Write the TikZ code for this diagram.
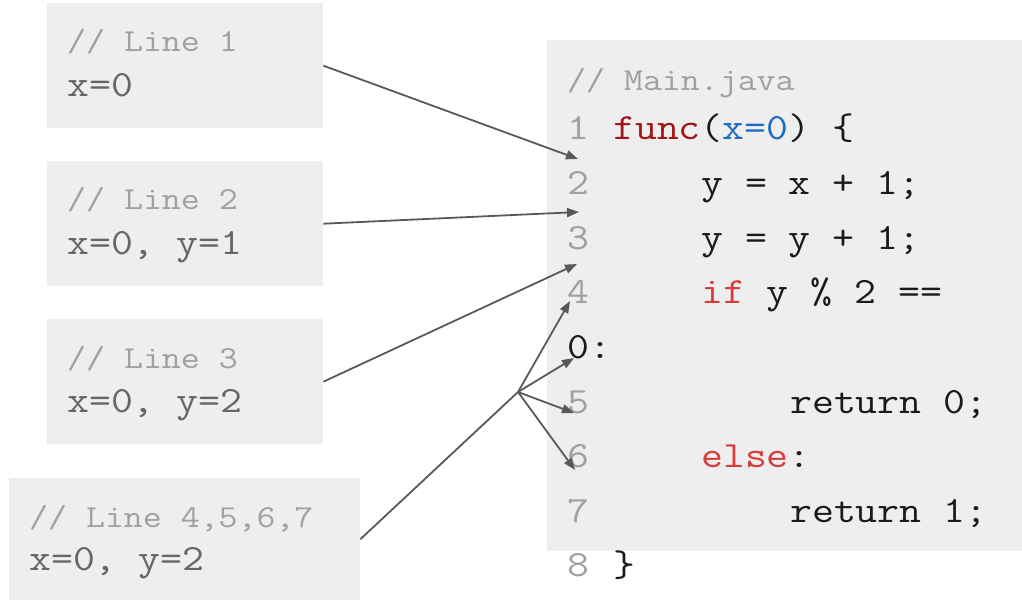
\documentclass[tikz,border=0pt]{standalone}
\usepackage{fontspec}
\setmonofont{Latin Modern Mono}[FakeStretch=1.15]
\usetikzlibrary{arrows.meta}
\definecolor{boxgray}{HTML}{EEEEEE}
\definecolor{cmtgray}{HTML}{A0A0A0}
\definecolor{valgray}{HTML}{666666}
\definecolor{arrowgray}{HTML}{595959}
\definecolor{funcred}{HTML}{A31515}
\definecolor{kwred}{HTML}{D83B3B}
\definecolor{argblue}{HTML}{1E6BC4}
\definecolor{codeblack}{HTML}{1A1A1A}
\begin{document}
\begin{tikzpicture}[x=1pt,y=-1pt,
  box/.style={fill=boxgray, draw=none, inner sep=0pt, anchor=north west},
  cmt/.style={anchor=base west, inner sep=0pt, font=\fontsize{32}{32}\selectfont\ttfamily, text=cmtgray},
  val/.style={anchor=base west, inner sep=0pt, font=\fontsize{37}{37}\selectfont\ttfamily, text=valgray},
  lnum/.style={anchor=base west, inner sep=0pt, font=\fontsize{37}{37}\selectfont\ttfamily, text=cmtgray},
  codetxt/.style={anchor=base west, inner sep=0pt, font=\fontsize{37}{37}\selectfont\ttfamily, text=codeblack},
  conn/.style={draw=arrowgray, line width=1.8pt},
  tip/.style={-{Triangle[length=12pt,width=9pt]}}
]
\useasboundingbox (0,0) rectangle (1022,601);

% state boxes
\node[box, minimum width=276pt, minimum height=125pt] (b1) at (47,3) {};
\node[box, minimum width=276pt, minimum height=125pt] (b2) at (47,161) {};
\node[box, minimum width=276pt, minimum height=125pt] (b3) at (47,319) {};
\node[box, minimum width=351pt, minimum height=122pt] (b4) at (9,478) {};

\node[cmt] (c1) at (67,52) {// Line 1};
\node[val] (v1) at (67,97) {x=0};
\node[cmt] (c2) at (67,210) {// Line 2};
\node[val] (v2) at (67,255) {x=0, y=1};
\node[cmt] (c3) at (67,368) {// Line 3};
\node[val] (v3) at (67,412) {x=0, y=2};
\node[cmt] (c4) at (29,527) {// Line 4,5,6,7};
\node[val] (v4) at (29,570) {x=0, y=2};

% code box
\node[box, minimum width=475pt, minimum height=511pt] (code) at (547,40) {};
\node[cmt] (cm) at (567,91) {// Main.java};

\node[lnum] (n1) at (567,140) {1};
\node[codetxt] (l1) at (613,140) {\textcolor{funcred}{func}(\textcolor{argblue}{x=0}) \{};
\node[lnum] (n2) at (567,195) {2};
\node[codetxt] (l2) at (701,195) {y = x + 1;};
\node[lnum] (n3) at (567,250) {3};
\node[codetxt] (l3) at (701,250) {y = y + 1;};
\node[lnum] (n4) at (567,304) {4};
\node[codetxt] (l4) at (701,304) {\textcolor{kwred}{if} y \% 2 ==};
\node[codetxt] (l4b) at (567,358) {0:};
\node[lnum] (n5) at (567,413) {5};
\node[codetxt] (l5) at (790,413) {return 0;};
\node[lnum] (n6) at (567,467) {6};
\node[codetxt] (l6) at (701,467) {\textcolor{kwred}{else}:};
\node[lnum] (n7) at (567,522) {7};
\node[codetxt] (l7) at (790,522) {return 1;};
\node[lnum] (n8) at (567,576) {8};
\node[codetxt] (l8) at (613,576) {\}};

% arrow targets
\coordinate (t1) at (578,159);
\coordinate (t2) at (579,212);
\coordinate (t3) at (577,264);
\coordinate (j)  at (518,392);
\coordinate (t4) at (570,301);
\coordinate (t4b) at (574,358);
\coordinate (t5) at (574,413);
\coordinate (t6) at (575,470);

\draw[conn,tip] (b1.east) -- (t1);
\draw[conn,tip] (b2.east) -- (t2);
\draw[conn,tip] (b3.east) -- (t3);
\draw[conn] (b4.east) -- (j);
\draw[conn,tip] (j) -- (t4);
\draw[conn,tip] (j) -- (t4b);
\draw[conn,tip] (j) -- (t5);
\draw[conn,tip] (j) -- (t6);
\end{tikzpicture}
\end{document}
